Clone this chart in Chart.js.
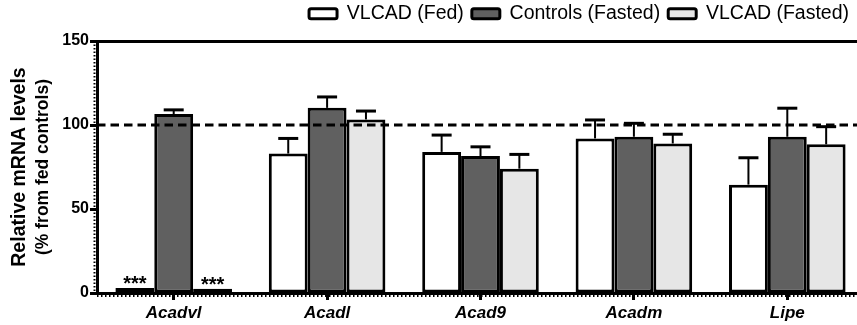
<!DOCTYPE html>
<html>
<head>
<meta charset="utf-8">
<script src="https://cdn.jsdelivr.net/npm/chart.js@4"></script>
<style>
  html, body { margin: 0; padding: 0; background: #fff; overflow: hidden; }
</style>
</head>
<body>
<canvas id="chart" width="857" height="325"></canvas>
<script>
// values (% of fed controls)
const genes = ['Acadvl', 'Acadl', 'Acad9', 'Acadm', 'Lipe'];
const seriesNames = ['VLCAD (Fed)', 'Controls (Fasted)', 'VLCAD (Fasted)'];
const vlcadFed = [3, 83, 84, 92, 64.5];
const controlsFasted = [106.5, 110.2, 81.5, 93, 93];
const vlcadFasted = [2.5, 103.3, 74, 89, 88.5];
// upper error (SEM) per bar
const vlcadFedErr = [0, 9, 10, 11, 16];
const controlsFastedErr = [2.5, 6.5, 5.5, 8, 17];
const vlcadFastedErr = [0, 5, 8.5, 5.5, 10.5];
// significance marks
const vlcadFedStars = ['***', '', '', '', ''];
const controlsFastedStars = ['', '', '', '', ''];
const vlcadFastedStars = ['***', '', '', '', ''];
const yTicks = [0, 50, 100, 150];
const yTitle = ['Relative mRNA levels', '(% from fed controls)'];
const referenceLevel = 100;

const FONT = "'Liberation Sans', Arial, sans-serif";
const errors = [vlcadFedErr, controlsFastedErr, vlcadFastedErr];
const stars = [vlcadFedStars, controlsFastedStars, vlcadFastedStars];

const extras = {
    id: 'extras',
    afterLayout(chart) {
        // the last group runs a little past the right edge of the picture
        const x = chart.scales.x;
        x.right = x.left + 767;
        x.width = 767;
        x.configure();
        chart.legend.top -= 4;
        chart.legend.bottom -= 4;
    },
    afterDatasetsDraw(chart) {
        const ctx = chart.ctx;
        const y = chart.scales.y;
        const area = chart.chartArea;
        ctx.save();
        ctx.strokeStyle = '#000';
        ctx.fillStyle = '#000';
        chart.data.datasets.forEach((ds, di) => {
            chart.getDatasetMeta(di).data.forEach((bar, i) => {
                const err = errors[di][i];
                if (err > 0) {
                    const top = y.getPixelForValue(ds.data[i] + err);
                    ctx.lineWidth = 2;
                    ctx.beginPath();
                    ctx.moveTo(bar.x, bar.y);
                    ctx.lineTo(bar.x, top);
                    ctx.stroke();
                    ctx.lineWidth = 3;
                    ctx.beginPath();
                    ctx.moveTo(bar.x - 10, top);
                    ctx.lineTo(bar.x + 10, top);
                    ctx.stroke();
                }
                if (stars[di][i]) {
                    ctx.font = 'bold 20px ' + FONT;
                    ctx.textAlign = 'center';
                    ctx.textBaseline = 'alphabetic';
                    ctx.fillText(stars[di][i], bar.x, bar.y + 2);
                }
            });
        });
        // dashed reference line
        const yr = y.getPixelForValue(referenceLevel);
        ctx.lineWidth = 3;
        ctx.setLineDash([8.5, 5]);
        ctx.beginPath();
        ctx.moveTo(area.left, yr);
        ctx.lineTo(chart.width, yr);
        ctx.stroke();
        ctx.restore();
    },
    afterDraw(chart) {
        const ctx = chart.ctx;
        const area = chart.chartArea;
        ctx.save();
        ctx.strokeStyle = '#000';
        // hatched look of the axes
        ctx.setLineDash([1.5, 2]);
        ctx.lineWidth = 2;
        ctx.beginPath();
        ctx.moveTo(area.left - 2.5, area.top);
        ctx.lineTo(area.left - 2.5, area.bottom);
        ctx.stroke();
        ctx.setLineDash([1.5, 2.5]);
        ctx.lineWidth = 3;
        ctx.beginPath();
        ctx.moveTo(area.left, area.bottom + 2.5);
        ctx.lineTo(chart.width, area.bottom + 2.5);
        ctx.stroke();
        ctx.setLineDash([]);
        // two-line y title, second line smaller
        const cy = (area.top + area.bottom) / 2;
        ctx.fillStyle = '#000';
        ctx.translate(20, cy);
        ctx.rotate(-Math.PI / 2);
        ctx.textAlign = 'center';
        ctx.textBaseline = 'middle';
        ctx.font = 'bold 19.5px ' + FONT;
        ctx.fillText(yTitle[0], 0, 0);
        ctx.font = 'bold 17.5px ' + FONT;
        ctx.fillText(yTitle[1], 0, 23);
        ctx.restore();
    }
};

const colors = ['#ffffff', '#606060', '#e6e6e6'];
const values = [vlcadFed, controlsFasted, vlcadFasted];

new Chart(document.getElementById('chart'), {
    type: 'bar',
    data: {
        labels: genes,
        datasets: seriesNames.map((name, i) => ({
            label: name,
            data: values[i],
            backgroundColor: colors[i],
            borderColor: '#000',
            borderWidth: 3,
            borderSkipped: false,
            barPercentage: 1,
            categoryPercentage: 0.76
        }))
    },
    options: {
        responsive: false,
        animation: false,
        devicePixelRatio: 1,
        layout: { padding: 0 },
        plugins: {
            tooltip: { enabled: false },
            legend: {
                position: 'top',
                align: 'end',
                labels: {
                    boxWidth: 28,
                    boxHeight: 10,
                    padding: 8,
                    useBorderRadius: true,
                    borderRadius: 2,
                    color: '#000',
                    font: { family: FONT, size: 19.5 }
                }
            }
        },
        scales: {
            x: {
                grid: { display: true, drawOnChartArea: false, offset: false, tickLength: 7, tickWidth: 3, tickColor: '#000' },
                border: { color: '#000', width: 3 },
                ticks: { color: '#000', padding: 3, font: { family: FONT, size: 17, weight: 'bold', style: 'italic' } },
                afterFit: s => { s.height = 32; }
            },
            x2: {
                type: 'linear',
                position: 'top',
                grid: { display: false, drawTicks: false },
                ticks: { display: false },
                border: { color: '#000', width: 3 },
                afterFit: s => { s.height = 3.5; }
            },
            y: {
                min: 0,
                max: 150,
                afterBuildTicks: s => { s.ticks = yTicks.map(v => ({ value: v })); },
                grid: { display: true, drawOnChartArea: false, tickLength: 7, tickWidth: 3, tickColor: '#000' },
                border: { color: '#000', width: 3 },
                ticks: { color: '#000', padding: 1, font: { family: FONT, size: 16, weight: 'bold' } },
                afterFit: s => { s.width = 97; }
            }
        }
    },
    plugins: [extras]
});
</script>
</body>
</html>
